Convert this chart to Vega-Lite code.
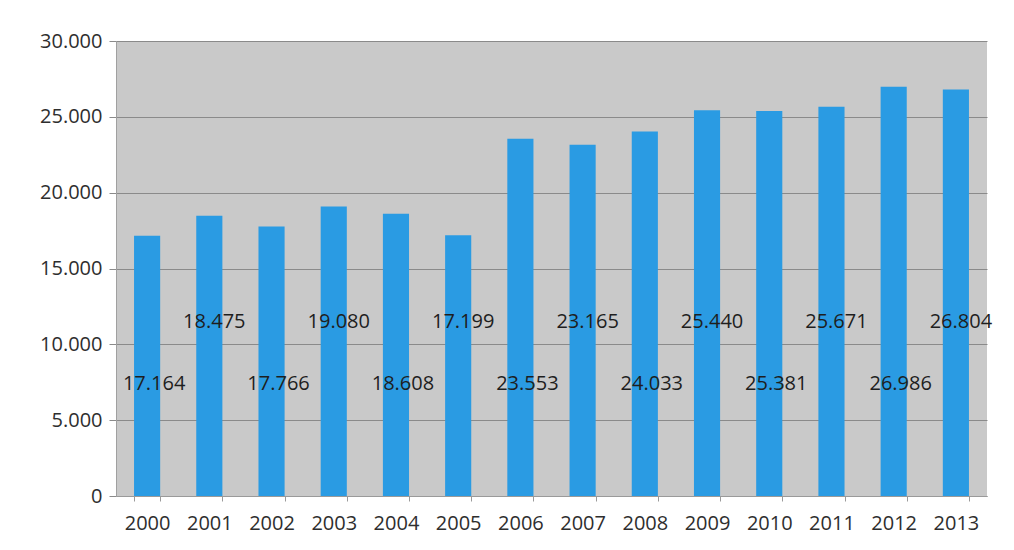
{
  "$schema": "https://vega.github.io/schema/vega-lite/v6.json",
  "autosize": "none",
  "width": 871,
  "height": 455,
  "padding": {"left": 116, "top": 41, "right": 27, "bottom": 54},
  "background": "white",
  "config": {
    "locale": {"number": {"decimal": ",", "thousands": ".", "grouping": [3], "currency": ["", " €"]}},
    "view": {"fill": "#c9c9c9", "stroke": null},
    "font": "Open Sans"
  },
  "data": {
    "values": [
      {"year": "2000", "value": 17164},
      {"year": "2001", "value": 18475},
      {"year": "2002", "value": 17766},
      {"year": "2003", "value": 19080},
      {"year": "2004", "value": 18608},
      {"year": "2005", "value": 17199},
      {"year": "2006", "value": 23553},
      {"year": "2007", "value": 23165},
      {"year": "2008", "value": 24033},
      {"year": "2009", "value": 25440},
      {"year": "2010", "value": 25381},
      {"year": "2011", "value": 25671},
      {"year": "2012", "value": 26986},
      {"year": "2013", "value": 26804}
    ]
  },
  "encoding": {
    "x": {
      "field": "year", "type": "ordinal",
      "scale": {"paddingInner": 0.58, "paddingOuter": 0.29},
      "axis": {
        "title": null, "labelAngle": 0, "labelFont": "Open Sans", "labelFontSize": 20,
        "labelColor": "#2e2e2e", "labelPadding": 12, "tickSize": 5, "tickBand": "extent",
        "tickColor": "#9a9a9a", "domainColor": "#9a9a9a", "grid": false
      }
    }
  },
  "layer": [
    {
      "mark": {"type": "bar", "color": "#2a9be3"},
      "encoding": {
        "y": {
          "field": "value", "type": "quantitative",
          "scale": {"domain": [0, 30000], "nice": false},
          "axis": {
            "title": null, "values": [0, 5000, 10000, 15000, 20000, 25000, 30000],
            "format": ",d", "labelFont": "Open Sans", "labelFontSize": 20, "labelColor": "#2e2e2e",
            "labelPadding": 7, "tickSize": 7, "tickColor": "#8a8a8a",
            "gridColor": "#8a8a8a", "gridWidth": 1, "domainColor": "#a0a0a0"
          }
        }
      }
    },
    {
      "transform": [{"filter": "toNumber(datum.year) % 2 == 0"}],
      "mark": {"type": "text", "fontSize": 20, "color": "#1e1e1e", "baseline": "middle", "align": "center", "dx": 7},
      "encoding": {
        "y": {"datum": 7385, "type": "quantitative"},
        "text": {"field": "value", "type": "quantitative", "format": ",d"}
      }
    },
    {
      "transform": [{"filter": "toNumber(datum.year) % 2 == 1"}],
      "mark": {"type": "text", "fontSize": 20, "color": "#1e1e1e", "baseline": "middle", "align": "center", "dx": 5},
      "encoding": {
        "y": {"datum": 11470, "type": "quantitative"},
        "text": {"field": "value", "type": "quantitative", "format": ",d"}
      }
    }
  ]
}
